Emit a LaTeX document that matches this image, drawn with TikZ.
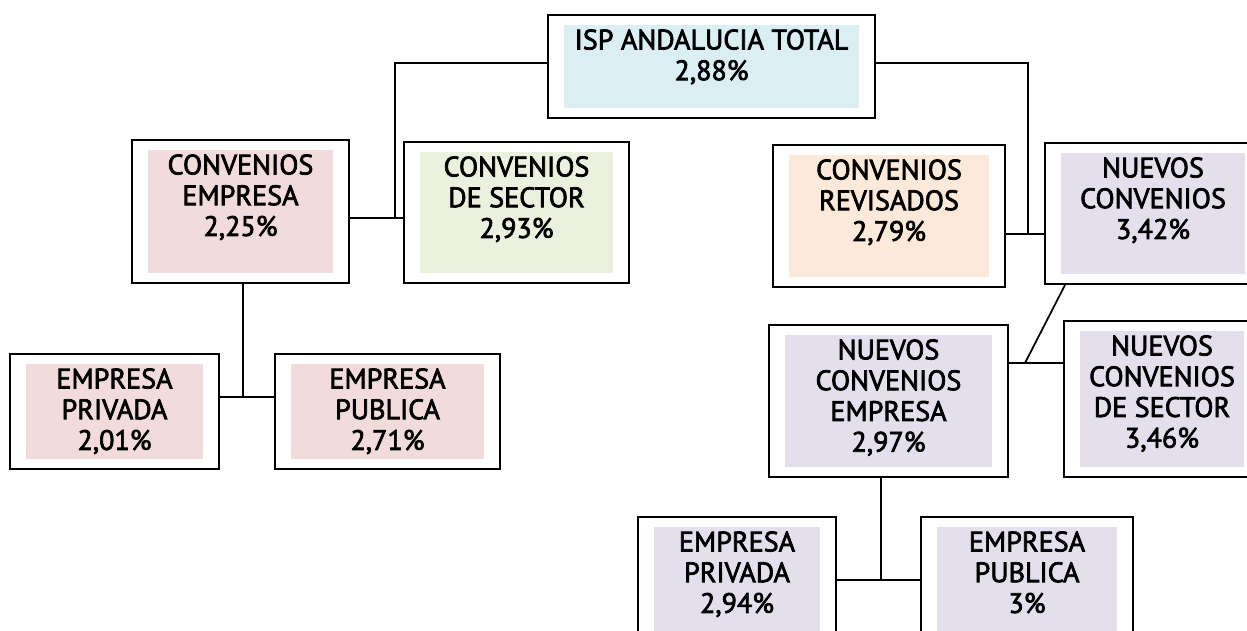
\documentclass[tikz,border=0pt]{standalone}
\usepackage{fontspec}
\setmainfont{PT Sans}
\newfontfamily\boxfont[FakeBold=2.5]{PT Sans}
\usetikzlibrary{positioning}

\definecolor{bluebox}{HTML}{DAEEF3}
\definecolor{pinkbox}{HTML}{F2DCDB}
\definecolor{greenbox}{HTML}{EBF1DE}
\definecolor{peachbox}{HTML}{FDE9D9}
\definecolor{lilabox}{HTML}{E4DFEC}

\begin{document}
\begin{tikzpicture}[x=0.02cm, y=-0.02cm,
	frame/.style = {draw, line width=1.1pt, fill=white,
		path picture={\fill[#1] ([shift={(0.32cm,0.2cm)}]path picture bounding box.south west)
			rectangle ([shift={(-0.32cm,-0.2cm)}]path picture bounding box.north east);}},
	txt/.style = {inner sep=0pt, align=center, font=\boxfont\fontsize{16}{17.5}\selectfont},
	link/.style = {line width=1pt}]

	\useasboundingbox (0,0) rectangle (1247,630);
	
	% frames
	\node[frame=bluebox, minimum width=6.54cm, minimum height=2.06cm] (totalF) at (711.5,66.5) {};
	\node[frame=pinkbox, minimum width=4.34cm, minimum height=2.86cm] (empF) at (240.5,211.5) {};
	\node[frame=greenbox, minimum width=4.5cm, minimum height=2.82cm] (secF) at (516.5,212.5) {};
	\node[frame=peachbox, minimum width=4.64cm, minimum height=2.84cm] (revF) at (889,216) {};
	\node[frame=lilabox, minimum width=4.32cm, minimum height=2.82cm] (nueF) at (1153,213.5) {};
	\node[frame=lilabox, minimum width=4.78cm, minimum height=3.04cm] (nceF) at (888.5,401) {};
	\node[frame=lilabox, minimum width=3.92cm, minimum height=3.12cm] (ncsF) at (1162,399) {};
	\node[frame=pinkbox, minimum width=4.18cm, minimum height=2.3cm] (privF) at (114.5,411.5) {};
	\node[frame=pinkbox, minimum width=4.5cm, minimum height=2.3cm] (pubF) at (387.5,411.5) {};
	\node[frame=lilabox, minimum width=3.96cm, minimum height=3.04cm] (npriF) at (737,593) {};
	\node[frame=lilabox, minimum width=4.24cm, minimum height=3.04cm] (npubF) at (1027,593) {};
	
	% texts
	\node[txt, below=0.3cm of totalF.north] (total) {ISP ANDALUCIA TOTAL\\2,88\%};
	\node[txt, below=0.3cm of empF.north] (emp) {CONVENIOS\\EMPRESA\\2,25\%};
	\node[txt, below=0.3cm of secF.north] (sec) {CONVENIOS\\DE SECTOR\\2,93\%};
	\node[txt, below=0.3cm of revF.north] (rev) {CONVENIOS\\REVISADOS\\2,79\%};
	\node[txt, below=0.3cm of nueF.north] (nue) {NUEVOS\\CONVENIOS\\3,42\%};
	\node[txt, below=0.3cm of nceF.north] (nce) {NUEVOS\\CONVENIOS\\EMPRESA\\2,97\%};
	\node[txt, below=0.3cm of ncsF.north] (ncs) {NUEVOS\\CONVENIOS\\DE SECTOR\\3,46\%};
	\node[txt, below=0.3cm of privF.north] (priv) {EMPRESA\\PRIVADA\\2,01\%};
	\node[txt, below=0.3cm of pubF.north] (pub) {EMPRESA\\PUBLICA\\2,71\%};
	\node[txt, below=0.3cm of npriF.north] (npri) {EMPRESA\\PRIVADA\\2,94\%};
	\node[txt, below=0.3cm of npubF.north] (npub) {EMPRESA\\PUBLICA\\3\%};
	
	% joints
	\coordinate (jl) at (395,218);
	\coordinate (jr) at (1028,234);
	\coordinate (js) at (1025,363);
	\coordinate (jp) at (243,397);
	\coordinate (jn) at (881,580);
	
	\draw[link] ([yshift=0.07cm]totalF.west) -| (jl);
	\draw[link] (empF.east |- jl) -- (secF.west |- jl);
	\draw[link] ([yshift=0.07cm]totalF.east) -| (jr);
	\draw[link] (revF.east |- jr) -- (nueF.west |- jr);
	\draw[link] ([xshift=-1.76cm]nueF.south) -- (js);
	\draw[link] (nceF.east |- js) -- (ncsF.west |- js);
	\draw[link] (empF.south -| jp) -- (jp);
	\draw[link] (privF.east |- jp) -- (pubF.west |- jp);
	\draw[link] (nceF.south -| jn) -- (jn);
	\draw[link] (npriF.east |- jn) -- (npubF.west |- jn);
	
\end{tikzpicture}
\end{document}
